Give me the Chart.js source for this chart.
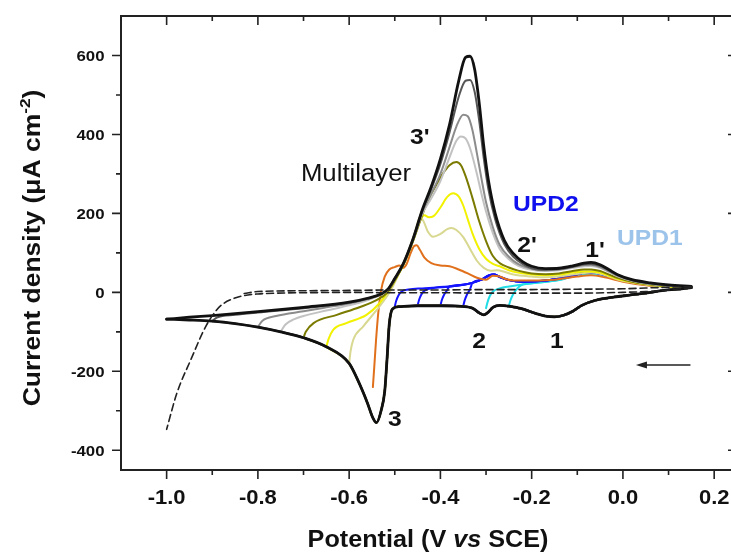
<!DOCTYPE html>
<html>
<head>
<meta charset="utf-8">
<script src="https://cdn.jsdelivr.net/npm/chart.js@4.4.0/dist/chart.umd.min.js"></script>
<style>
  html, body { margin: 0; padding: 0; background: #fff; overflow: hidden; }
  #wrap { width: 745px; height: 552px; }
</style>
</head>
<body>
<div id="wrap"><canvas id="cv" width="745" height="552"></canvas></div>
<script>
// tick labels
const xTicks = [-1.0, -0.8, -0.6, -0.4, -0.2, 0.0, 0.2];
const xMinor = [-0.9, -0.7, -0.5, -0.3, -0.1, 0.1];
const yTicks = [-400, -200, 0, 200, 400, 600];
const yMinor = [-300, -100, 100, 300, 500];

// forward (cathodic) scan, shared by every cycle : 0.15 V -> -1.0 V
const cathE = [0.15, 0.12, 0.09, 0.05, 0.015, -0.02, -0.06, -0.09, -0.11, -0.13, -0.15, -0.17, -0.19, -0.22, -0.25, -0.27, -0.285, -0.295, -0.305, -0.315, -0.33, -0.36, -0.4, -0.45, -0.49, -0.505, -0.512, -0.517, -0.522, -0.53, -0.54, -0.548, -0.56, -0.58, -0.6, -0.65, -0.7, -0.75, -0.8, -0.85, -0.9, -0.95, -1.0];
const cathJ = [12, 8, 5, -2, -7, -12, -20, -33, -48, -58, -62, -60, -54, -42, -35, -33, -38, -50, -57, -52, -40, -35, -34, -34, -36, -42, -80, -170, -250, -300, -330, -318, -280, -225, -180, -138, -115, -100, -88, -79, -73, -70, -68];

// reverse (anodic) scans, one per vertex potential
const blackE = [-1.0, -0.95, -0.9, -0.8, -0.7, -0.6, -0.56, -0.53, -0.515, -0.5, -0.48, -0.46, -0.44, -0.42, -0.4, -0.38, -0.36, -0.345, -0.335, -0.325, -0.315, -0.305, -0.295, -0.28, -0.26, -0.24, -0.22, -0.2, -0.17, -0.14, -0.11, -0.085, -0.07, -0.05, -0.03, -0.01, 0.02, 0.06, 0.1, 0.15];
const blackJ = [-68, -63, -59, -49, -38, -25, -15, -4, 8, 35, 76, 135, 208, 268, 338, 425, 535, 595, 598, 565, 480, 370, 285, 200, 132, 98, 78, 66, 60, 61, 67, 74, 76, 70, 57, 44, 32, 24, 19, 15];

const dgrayE = [-0.9, -0.89, -0.85, -0.8, -0.7, -0.6, -0.56, -0.53, -0.515, -0.5, -0.48, -0.46, -0.44, -0.42, -0.4, -0.38, -0.36, -0.345, -0.335, -0.325, -0.315, -0.305, -0.295, -0.28, -0.26, -0.24, -0.22, -0.2, -0.17, -0.14, -0.11, -0.085, -0.07, -0.05, -0.03, -0.01, 0.02, 0.06, 0.1, 0.15];
const dgrayJ = [-73, -64, -57, -51, -40, -26, -16, -4, 8, 35, 76, 135, 207, 262, 325, 405, 495, 536, 538, 508, 435, 340, 262, 185, 122, 90, 72, 61, 57, 59, 65, 71, 72, 67, 55, 43, 31, 23, 18, 14];

const grayE = [-0.8, -0.79, -0.76, -0.7, -0.65, -0.6, -0.56, -0.53, -0.515, -0.5, -0.48, -0.46, -0.44, -0.42, -0.4, -0.38, -0.365, -0.35, -0.34, -0.33, -0.32, -0.31, -0.3, -0.285, -0.27, -0.25, -0.23, -0.2, -0.17, -0.14, -0.11, -0.085, -0.07, -0.05, -0.03, -0.01, 0.02, 0.06, 0.1, 0.15];
const grayJ = [-88, -72, -60, -48, -38, -28, -17, -5, 8, 35, 76, 135, 203, 250, 300, 368, 420, 450, 446, 412, 352, 288, 228, 165, 120, 90, 72, 60, 56, 58, 64, 69, 70, 64, 53, 41, 30, 22, 17, 14];

const lgrayE = [-0.75, -0.74, -0.72, -0.7, -0.65, -0.6, -0.56, -0.53, -0.515, -0.5, -0.48, -0.46, -0.44, -0.42, -0.4, -0.38, -0.365, -0.355, -0.345, -0.335, -0.32, -0.31, -0.3, -0.285, -0.27, -0.25, -0.23, -0.2, -0.17, -0.14, -0.11, -0.085, -0.07, -0.05, -0.03, -0.01, 0.02, 0.06, 0.1, 0.15];
const lgrayJ = [-100, -82, -68, -60, -46, -33, -20, -6, 7, 34, 75, 133, 198, 238, 282, 342, 384, 395, 390, 365, 300, 250, 205, 150, 110, 84, 68, 57, 54, 56, 62, 66, 67, 62, 51, 40, 29, 21, 17, 14];

const oliveE = [-0.7, -0.695, -0.678, -0.627, -0.576, -0.539, -0.517, -0.5, -0.48, -0.46, -0.44, -0.425, -0.41, -0.395, -0.38, -0.365, -0.355, -0.345, -0.33, -0.315, -0.3, -0.285, -0.27, -0.25, -0.23, -0.2, -0.17, -0.14, -0.11, -0.085, -0.07, -0.05, -0.03, -0.01, 0.02, 0.06, 0.1, 0.15];
const oliveJ = [-115, -100, -78, -57, -37, -19, -1, 30, 72, 130, 195, 238, 270, 300, 322, 330, 322, 295, 240, 180, 130, 92, 74, 63, 55, 48, 46, 48, 54, 58, 58, 54, 45, 36, 27, 20, 16, 13];

const yellowE = [-0.65, -0.645, -0.635, -0.606, -0.562, -0.533, -0.515, -0.5, -0.48, -0.46, -0.445, -0.435, -0.425, -0.415, -0.4, -0.385, -0.372, -0.36, -0.35, -0.34, -0.33, -0.315, -0.3, -0.285, -0.27, -0.25, -0.23, -0.2, -0.17, -0.14, -0.11, -0.085, -0.07, -0.05, -0.03, -0.01, 0.02, 0.06, 0.1, 0.15];
const yellowJ = [-138, -118, -95, -78, -57, -27, 2, 30, 72, 130, 180, 195, 190, 193, 215, 242, 251, 243, 220, 185, 150, 110, 85, 72, 66, 56, 50, 45, 43, 45, 50, 53, 53, 50, 42, 34, 26, 19, 15, 12];

const khakiE = [-0.6, -0.597, -0.591, -0.569, -0.539, -0.517, -0.506, -0.49, -0.47, -0.455, -0.445, -0.437, -0.428, -0.416, -0.4, -0.385, -0.376, -0.365, -0.35, -0.335, -0.32, -0.305, -0.29, -0.275, -0.26, -0.24, -0.2, -0.17, -0.14, -0.11, -0.085, -0.07, -0.05, -0.03, -0.01, 0.02, 0.06, 0.1, 0.15];
const khakiJ = [-180, -150, -120, -86, -44, -10, 11, 50, 105, 155, 190, 180, 155, 141, 148, 160, 163, 158, 140, 110, 80, 62, 55, 56, 52, 45, 40, 38, 40, 45, 49, 50, 47, 40, 32, 25, 18, 14, 12];

const orangeE = [-0.548, -0.545, -0.541, -0.536, -0.53, -0.522, -0.512, -0.5, -0.49, -0.482, -0.474, -0.465, -0.458, -0.452, -0.445, -0.435, -0.42, -0.4, -0.38, -0.36, -0.34, -0.32, -0.3, -0.285, -0.27, -0.255, -0.24, -0.2, -0.15, -0.1, -0.07, -0.04, 0, 0.05, 0.1, 0.15];
const orangeJ = [-240, -190, -120, -50, 5, 40, 58, 64, 68, 62, 72, 100, 117, 119, 108, 88, 74, 68, 66, 58, 48, 37, 32, 42, 40, 33, 30, 30, 32, 40, 43, 38, 27, 18, 14, 12];

// UPD2 (blue) and UPD1 (cyan) cycles: short hook at the vertex, then a common return
const upd2TailE = [-0.47, -0.44, -0.41, -0.38, -0.35, -0.33, -0.31, -0.295, -0.283, -0.27, -0.25, -0.22, -0.19, -0.16, -0.13, -0.1, -0.08, -0.065, -0.05, -0.03, 0, 0.04, 0.08, 0.12, 0.15];
const upd2TailJ = [7, 10, 12, 15, 19, 24, 32, 42, 45, 39, 31, 27, 28, 31, 37, 46, 50, 50, 47, 40, 31, 22, 17, 14, 12];
const upd1TailE = [-0.22, -0.19, -0.16, -0.13, -0.1, -0.08, -0.065, -0.05, -0.03, 0, 0.04, 0.08, 0.12, 0.15];
const upd1TailJ = [20, 24, 28, 34, 43, 47, 48, 45, 38, 30, 21, 16, 13, 12];

const hook50E = [-0.5, -0.497, -0.492, -0.485];   const hook50J = [-36, -22, -8, 2];
const hook45E = [-0.45, -0.447, -0.442, -0.435];  const hook45J = [-34, -20, -6, 4];
const hook40E = [-0.4, -0.397, -0.392, -0.385];   const hook40J = [-34, -20, -6, 6];
const hook35E = [-0.35, -0.347, -0.342, -0.335];  const hook35J = [-35, -21, -6, 8];
const hook30E = [-0.3, -0.297, -0.292, -0.285, -0.27, -0.25]; const hook30J = [-40, -26, -10, 2, 10, 15];
const hook25E = [-0.25, -0.247, -0.242, -0.235]; const hook25J = [-35, -22, -8, 5];

// blank electrolyte (dashed)
const blankCathE = [0.15, 0.1, 0.05, 0, -0.1, -0.2, -0.3, -0.4, -0.5, -0.6, -0.7, -0.76, -0.8, -0.83, -0.854, -0.875, -0.89, -0.915, -0.946, -0.978, -1.0];
const blankCathJ = [12, 6, 2, 0, -2, -2, -2, -1, -1, 0, -1, -2, -4, -8, -16, -28, -44, -88, -168, -257, -347];
const blankAnodE = [-0.83, -0.8, -0.7, -0.6, -0.5, -0.4, -0.3, -0.2, -0.1, 0, 0.05, 0.1, 0.15];
const blankAnodJ = [-3, 2, 4, 5, 6, 6, 7, 7, 8, 9, 11, 13, 15];

function pts(E, J) {
  return E.map(function (e, i) { return { x: e, y: J[i] }; });
}
function join(hE, hJ, tE, tJ) {
  const last = hE[hE.length - 1];
  const E = hE.slice(), J = hJ.slice();
  tE.forEach(function (e, i) { if (e > last) { E.push(e); J.push(tJ[i]); } });
  return pts(E, J);
}
// forward scan down to a given vertex
function forward(v) {
  const E = [], J = [];
  cathE.forEach(function (e, i) { if (e >= v - 1e-6) { E.push(e); J.push(cathJ[i]); } });
  return pts(E, J);
}

// bottom -> top drawing order
const cycles = [
  { c: "#22dde6", w: 2, v: -0.25, back: join(hook25E, hook25J, upd1TailE, upd1TailJ) },
  { c: "#22dde6", w: 2, v: -0.3, back: join(hook30E, hook30J, upd1TailE, upd1TailJ) },
  { c: "#1414ff", w: 2, v: -0.35, back: join(hook35E, hook35J, upd2TailE, upd2TailJ) },
  { c: "#1414ff", w: 2, v: -0.4, back: join(hook40E, hook40J, upd2TailE, upd2TailJ) },
  { c: "#1414ff", w: 2, v: -0.45, back: join(hook45E, hook45J, upd2TailE, upd2TailJ) },
  { c: "#1414ff", w: 2, v: -0.5, back: join(hook50E, hook50J, upd2TailE, upd2TailJ) },
  { c: "#e0701c", w: 2, v: -0.53, back: pts(orangeE, orangeJ) },
  { c: "#d8d890", w: 2, v: -0.6, back: pts(khakiE, khakiJ) },
  { c: "#f2f200", w: 2, v: -0.65, back: pts(yellowE, yellowJ) },
  { c: "#7a7a00", w: 2, v: -0.7, back: pts(oliveE, oliveJ) },
  { c: "#c2c2c2", w: 2, v: -0.75, back: pts(lgrayE, lgrayJ) },
  { c: "#8c8c8c", w: 2, v: -0.8, back: pts(grayE, grayJ) },
  { c: "#565656", w: 2, v: -0.9, back: pts(dgrayE, dgrayJ) },
  { c: "#111111", w: 2.8, v: -1.0, back: pts(blackE, blackJ) }
];

const datasets = [];
cycles.forEach(function (cy) {
  datasets.push({ data: forward(cy.v), borderColor: cy.c, borderWidth: cy.w, showLine: true });
  datasets.push({ data: cy.back, borderColor: cy.c, borderWidth: cy.w, showLine: true });
});
datasets.push({ data: pts(blankCathE, blankCathJ), borderColor: "#222", borderWidth: 1.6, borderDash: [7, 4], showLine: true });
datasets.push({ data: pts(blankAnodE, blankAnodJ), borderColor: "#222", borderWidth: 1.6, borderDash: [7, 4], showLine: true });
// Chart.js paints the lowest order last (on top)
datasets.forEach(function (d, i) { d.order = datasets.length - i; });

const FONT = '"Liberation Sans", Arial, sans-serif';

function txt(ctx, s, x, y, font, color, align, stretch) {
  ctx.save();
  ctx.font = font;
  ctx.fillStyle = color;
  ctx.textBaseline = "alphabetic";
  ctx.translate(x, y);
  ctx.scale(stretch, 1);
  const w = ctx.measureText(s).width;
  const dx = align === "center" ? -w / 2 : align === "right" ? -w : 0;
  ctx.fillText(s, dx, 0);
  ctx.restore();
}

const notes = [
  { t: "3'", x: -0.445, y: 376, f: "bold 22px", c: "#111" },
  { t: "Multilayer", x: -0.585, y: 283, f: "23px", c: "#111" },
  { t: "UPD2", x: -0.169, y: 206, f: "bold 22px", c: "#1010ee" },
  { t: "UPD1", x: 0.059, y: 120, f: "bold 22px", c: "#9cc3ea" },
  { t: "2'", x: -0.21, y: 102, f: "bold 22px", c: "#111" },
  { t: "1'", x: -0.061, y: 90, f: "bold 22px", c: "#111" },
  { t: "2", x: -0.315, y: -142, f: "bold 22px", c: "#111" },
  { t: "1", x: -0.145, y: -142, f: "bold 22px", c: "#111" },
  { t: "3", x: -0.5, y: -338, f: "bold 22px", c: "#111" }
];

const decor = {
  id: "decor",
  afterDraw: function (chart) {
    const ctx = chart.ctx, a = chart.chartArea;
    const sx = chart.scales.x, sy = chart.scales.y;
    ctx.save();

    // frame
    ctx.strokeStyle = "#222";
    ctx.lineWidth = 2;
    ctx.strokeRect(a.left, a.top, a.right - a.left, a.bottom - a.top);

    // tick marks: out on bottom/left, in on top/right
    ctx.lineWidth = 1.6;
    ctx.beginPath();
    function xt(v, len) {
      const p = sx.getPixelForValue(v);
      ctx.moveTo(p, a.bottom); ctx.lineTo(p, a.bottom + len);
      ctx.moveTo(p, a.top); ctx.lineTo(p, a.top + len);
    }
    function yt(v, len) {
      const p = sy.getPixelForValue(v);
      ctx.moveTo(a.left, p); ctx.lineTo(a.left - len, p);
      ctx.moveTo(a.right, p); ctx.lineTo(a.right - len, p);
    }
    xTicks.forEach(function (v) { xt(v, 9); });
    xMinor.forEach(function (v) { xt(v, 5); });
    yTicks.forEach(function (v) { yt(v, 9); });
    yMinor.forEach(function (v) { yt(v, 5); });
    ctx.stroke();

    // tick labels
    xTicks.forEach(function (v) {
      txt(ctx, v.toFixed(1), sx.getPixelForValue(v), 504, "bold 20px " + FONT, "#111", "center", 1.1);
    });
    yTicks.forEach(function (v) {
      txt(ctx, String(v), 104.5, sy.getPixelForValue(v) + 5.5, "bold 15px " + FONT, "#111", "right", 1.12);
    });

    // x title with italic "vs"
    ctx.save();
    const f1 = "bold 24px " + FONT, f2 = "italic bold 24px " + FONT;
    ctx.font = f1;
    const wA = ctx.measureText("Potential (V ").width;
    const wC = ctx.measureText(" SCE)").width;
    ctx.font = f2;
    const wB = ctx.measureText("vs").width;
    ctx.restore();
    const st = 1.05;
    let x0 = 428 - (wA + wB + wC) * st / 2;
    txt(ctx, "Potential (V ", x0, 547, f1, "#111", "left", st);
    txt(ctx, "vs", x0 + wA * st, 547, f2, "#111", "left", st);
    txt(ctx, " SCE)", x0 + (wA + wB) * st, 547, f1, "#111", "left", st);

    // y title with superscript
    ctx.save();
    ctx.translate(40, 248);
    ctx.rotate(-Math.PI / 2);
    const g1 = "bold 23px " + FONT, g2 = "bold 15px " + FONT;
    ctx.font = g1;
    const pA = ctx.measureText("Current density (\u03bcA cm").width;
    const pC = ctx.measureText(")").width;
    ctx.font = g2;
    const pB = ctx.measureText("-2").width;
    const ys = 1.15;
    let y0 = -(pA + pB + pC) * ys / 2;
    txt(ctx, "Current density (\u03bcA cm", y0, 0, g1, "#111", "left", ys);
    txt(ctx, "-2", y0 + pA * ys, -10, g2, "#111", "left", ys);
    txt(ctx, ")", y0 + (pA + pB) * ys, 0, g1, "#111", "left", ys);
    ctx.restore();

    // peak labels
    notes.forEach(function (n) {
      txt(ctx, n.t, sx.getPixelForValue(n.x), sy.getPixelForValue(n.y), n.f + " " + FONT, n.c, "center", 1.12);
    });

    // scan direction arrow
    const ay = sy.getPixelForValue(-184);
    const ax1 = sx.getPixelForValue(0.148), ax2 = sx.getPixelForValue(0.0285);
    ctx.strokeStyle = "#222";
    ctx.fillStyle = "#222";
    ctx.lineWidth = 1.5;
    ctx.beginPath();
    ctx.moveTo(ax1, ay); ctx.lineTo(ax2 + 8, ay);
    ctx.stroke();
    ctx.beginPath();
    ctx.moveTo(ax2, ay); ctx.lineTo(ax2 + 11, ay - 3.5); ctx.lineTo(ax2 + 11, ay + 3.5);
    ctx.closePath();
    ctx.fill();

    ctx.restore();
  }
};

new Chart(document.getElementById("cv"), {
  type: "scatter",
  data: { datasets: datasets },
  options: {
    responsive: false,
    animation: false,
    devicePixelRatio: 1,
    layout: { padding: { top: 16, right: 8, left: 0, bottom: 0 } },
    plugins: { legend: { display: false }, tooltip: { enabled: false } },
    elements: {
      point: { radius: 0 },
      line: { cubicInterpolationMode: "monotone", borderCapStyle: "round", borderJoinStyle: "round" }
    },
    scales: {
      x: {
        type: "linear", min: -1.1, max: 0.25,
        grid: { display: false, drawTicks: false },
        border: { display: false },
        ticks: { display: false },
        afterFit: function (s) { s.height = 82; }
      },
      y: {
        type: "linear", min: -450, max: 700,
        grid: { display: false, drawTicks: false },
        border: { display: false },
        ticks: { display: false },
        afterFit: function (s) { s.width = 121; }
      }
    }
  },
  plugins: [decor]
});
</script>
</body>
</html>
